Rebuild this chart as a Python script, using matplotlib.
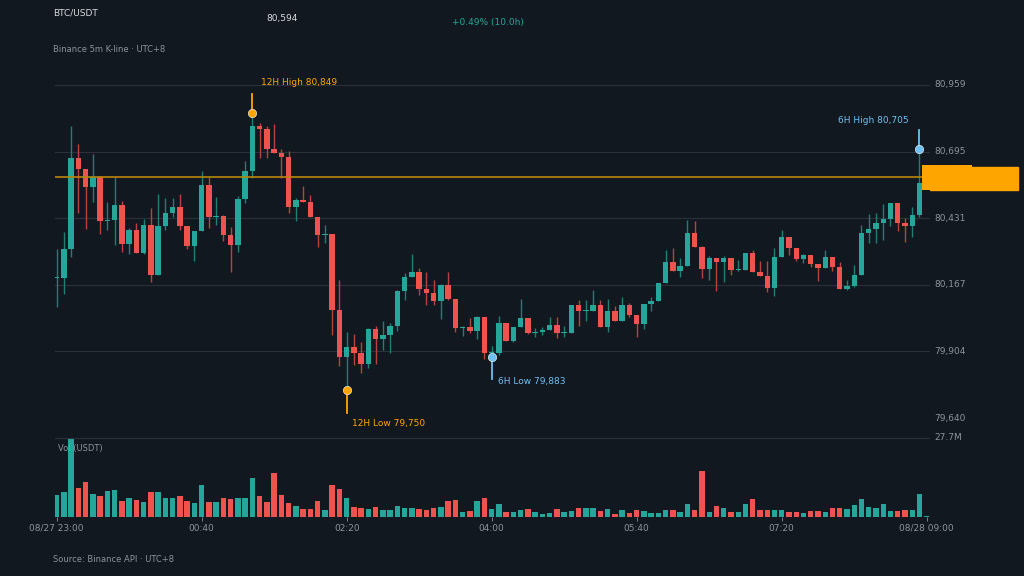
import matplotlib.pyplot as plt
import numpy as np

# BTC/USDT 5m candles, 08/27 23:00 -> 08/28 09:00
first_open = 80194
closes = [80194, 80309, 80670, 80626, 80555, 80595, 80420, 80424, 80484, 80329,
          80385, 80294, 80404, 80206, 80400, 80452, 80476, 80400, 80321, 80381,
          80563, 80436, 80440, 80365, 80325, 80507, 80618, 80797, 80785, 80705,
          80690, 80674, 80476, 80503, 80496, 80436, 80365, 80369, 80068, 79882,
          79921, 79897, 79854, 79992, 79953, 79969, 80004, 80143, 80198, 80218,
          80151, 80135, 80103, 80167, 80111, 79996, 80000, 79985, 80040, 79897,
          79897, 80016, 79945, 80000, 80036, 79977, 79981, 79988, 80008, 79977,
          79977, 80088, 80064, 80064, 80088, 80000, 80064, 80024, 80088, 80048,
          80012, 80092, 80103, 80175, 80258, 80222, 80242, 80373, 80317, 80230,
          80274, 80258, 80274, 80226, 80226, 80294, 80218, 80202, 80155, 80278,
          80357, 80313, 80270, 80286, 80250, 80234, 80278, 80238, 80151, 80163,
          80206, 80373, 80389, 80412, 80428, 80492, 80412, 80400, 80444, 80571,
          80594]
upper_wick = [116, 66, 125, 55, 0, 90, 5, 71, 112, 17, 7, 26, 26, 67, 129, 59, 36, 50, 0, 0,
              54, 32, 77, 4, 32, 13, 41, 52, 13, 13, 98, 16, 25, 7, 55, 28, 0, 37, 0, 119,
              58, 50, 44, 4, 13, 55, 13, 5, 16, 70, 18, 69, 53, 3, 51, 0, 5, 38, 3, 0,
              30, 29, 0, 0, 77, 0, 17, 13, 33, 33, 29, 0, 21, 44, 58, 21, 49, 18, 32, 8,
              0, 0, 16, 0, 49, 55, 30, 53, 49, 3, 8, 0, 7, 0, 40, 0, 11, 42, 58, 36,
              26, 0, 0, 5, 0, 0, 29, 0, 20, 25, 41, 33, 59, 40, 59, 0, 0, 20, 33, 134,
              0]
lower_wick = [115, 62, 33, 175, 166, 58, 53, 37, 98, 30, 40, 0, 5, 26, 0, 16, 16, 17, 10, 61,
              0, 44, 33, 24, 106, 29, 16, 28, 117, 34, 0, 83, 25, 54, 0, 0, 46, 32, 99, 37,
              132, 49, 37, 17, 99, 44, 73, 18, 34, 0, 22, 46, 16, 71, 5, 15, 30, 8, 34, 24,
              14, 7, 0, 5, 0, 3, 15, 13, 0, 22, 16, 0, 58, 38, 0, 0, 20, 0, 0, 8,
              50, 20, 30, 0, 0, 0, 22, 0, 0, 37, 45, 116, 79, 20, 5, 0, 0, 0, 16, 32,
              0, 29, 7, 17, 12, 53, 0, 16, 0, 3, 4, 0, 40, 55, 66, 29, 33, 62, 45, 9,
              6]
volume_m = [7.6, 8.6, 27.7, 10.3, 12.1, 7.9, 7.3, 9.0, 9.4, 5.6, 6.5, 5.8, 5.3, 8.8, 8.6, 6.5,
            6.7, 7.3, 5.5, 5.0, 11.2, 5.2, 5.2, 6.8, 6.3, 6.5, 6.7, 13.5, 7.3, 5.3, 15.6, 7.6,
            4.8, 3.8, 2.7, 2.9, 5.5, 2.3, 11.2, 9.7, 6.6, 3.5, 3.3, 2.9, 3.5, 2.3, 2.3, 3.8,
            3.1, 3.3, 2.7, 2.6, 3.3, 3.5, 5.5, 5.9, 1.6, 2.2, 5.5, 6.6, 2.8, 4.5, 1.6, 1.6,
            2.6, 2.8, 1.6, 0.9, 1.3, 2.8, 1.9, 2.1, 3.1, 3.3, 3.1, 2.1, 2.8, 0.9, 2.3, 1.3,
            2.6, 2.1, 1.4, 1.4, 2.6, 2.6, 1.9, 4.5, 2.3, 16.1, 1.9, 4.0, 3.3, 1.6, 1.9, 4.5,
            6.3, 2.3, 2.3, 2.3, 2.3, 1.9, 1.9, 1.3, 2.1, 2.1, 1.9, 3.3, 3.3, 2.8, 4.2, 6.3,
            3.5, 3.3, 4.7, 2.1, 2.1, 2.3, 2.6, 8.0, 0.5]
price_ticks = [79640, 79904, 80167, 80431, 80695, 80959]
tick_idx = [0, 20, 40, 60, 80, 100, 120]
tick_labels = ['08/27 23:00', '00:40', '02:20', '04:00', '05:40', '07:20', '08/28 09:00']
last_price = 80594
# (index, value, label, kind)
extremes = [(27, 80849, '12H High 80,849', 'high12'), (40, 79750, '12H Low 79,750', 'low12'),
            (60, 79883, '6H Low 79,883', 'low6'), (119, 80705, '6H High 80,705', 'high6')]

BG = '#111820'
UP = '#26a69a'
DOWN = '#ef5350'
GRID = '#2a313b'
TXT = '#8b939e'
ORANGE = '#ffa500'
BLUE = '#6ec1f2'

opens = [first_open] + closes[:-1]
n = len(closes)
x = np.arange(n)
o = np.array(opens, float)
c = np.array(closes, float)
hi = np.maximum(o, c) + np.array(upper_wick)
lo = np.minimum(o, c) - np.array(lower_wick)
up = c >= o
cols = np.where(up, UP, DOWN)

W, H = 1024, 576
fig = plt.figure(figsize=(10.24, 5.76), dpi=100, facecolor=BG)


def rect(l, t, w, h):
    return [l / W, 1 - (t + h) / H, w / W, h / H]


xlim = (-0.23, 120.45)
ax = fig.add_axes(rect(55, 85, 875, 333))
ax.set_facecolor(BG)
ax.set_xlim(*xlim)
ax.set_ylim(price_ticks[0], price_ticks[-1])
for s in ax.spines.values():
    s.set_visible(False)
ax.set_xticks([])
ax.set_yticks([])
for p in price_ticks:
    ax.axhline(p, color=GRID, lw=0.8, zorder=0)
    ax.text(1.005, p, f'{p:,}', transform=ax.get_yaxis_transform(), color=TXT,
            fontsize=6.5, va='center', ha='left')

wick_cols = np.where(up, '#1f7f76', '#b8423f')
ax.vlines(x, lo, hi, colors=wick_cols, lw=1, zorder=2)
body_h = np.maximum(np.abs(c - o), 3)
ax.bar(x, body_h, bottom=np.minimum(o, c), width=0.75, color=cols, zorder=3)

ax.axhline(last_price, color='#b8860b', lw=1.2, zorder=4)
ax.text(1.0, last_price, f' {last_price:,}', transform=ax.get_yaxis_transform(),
        fontsize=6.5, color='#1a1a1a', va='center', ha='left',
        bbox=dict(boxstyle='square,pad=0.9', fc=ORANGE, ec='none'), zorder=6)
fig.patches.append(plt.Rectangle((930 / W, 1 - 190 / H), 88 / W, 23 / H,
                                 transform=fig.transFigure, color=ORANGE, zorder=5))

for i, v, lab, kind in extremes:
    col = ORANGE if kind.endswith('12') else BLUE
    pin = 75 if kind.startswith('high') else -90
    ax.plot([i, i], [v, v + pin], color=col, lw=1.3, zorder=5, clip_on=False)
    ax.plot(i, v, 'o', ms=6, color=col, mec='white', mew=0.4, zorder=6, clip_on=False)
    if kind.startswith('high'):
        dx, dy, ha = (1.2, 120, 'left') if kind == 'high12' else (-1.5, 115, 'right')
    else:
        dx, dy, ha = 0.8, -130, 'left'
    if kind == 'low6':
        dy = -100
    ax.text(i + dx, v + dy, lab, color=col, fontsize=6.5, ha=ha, va='center', clip_on=False)

# volume
vax = fig.add_axes(rect(55, 438, 875, 79))
vax.set_facecolor(BG)
vax.set_xlim(*xlim)
vax.set_ylim(0, 27.7)
vax.bar(x, volume_m, width=0.75, color=cols)
for s in vax.spines.values():
    s.set_visible(False)
vax.axhline(27.7, color=GRID, lw=0.8)
vax.text(1.005, 27.7, '27.7M', transform=vax.get_yaxis_transform(), color=TXT,
         fontsize=6.5, va='center')
vax.text(0.004, 0.93, 'Vol (USDT)', transform=vax.transAxes, color=TXT, fontsize=6, va='top')
vax.set_yticks([])
vax.set_xticks(tick_idx)
vax.set_xticklabels(tick_labels, color=TXT, fontsize=6.5)
vax.tick_params(axis='x', colors=TXT, length=3, width=0.6, pad=2, labelcolor=TXT)

fig.text(53 / W, 1 - 13 / H, 'BTC/USDT', color='#d6dbe1', fontsize=6.5, va='center')
fig.text(266 / W, 1 - 19 / H, f'{last_price:,}', color='#d6dbe1', fontsize=6.5, va='center')
fig.text(452 / W, 1 - 23 / H, '+0.49% (10.0h)', color=UP, fontsize=6.5, va='center')
fig.text(53 / W, 1 - 50 / H, 'Binance 5m K-line · UTC+8', color=TXT, fontsize=6, va='center')
fig.text(53 / W, 1 - 559 / H, 'Source: Binance API · UTC+8', color=TXT, fontsize=6, va='center')

fig.savefig('out.png', dpi=100, facecolor=BG)
